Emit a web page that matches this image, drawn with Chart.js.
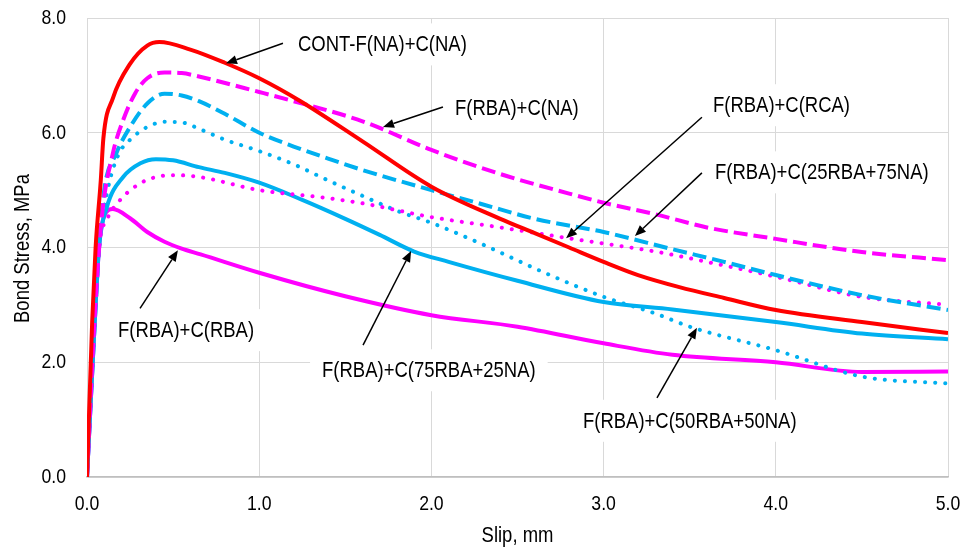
<!DOCTYPE html>
<html>
<head>
<meta charset="utf-8">
<script src="https://cdn.jsdelivr.net/npm/chart.js@4/dist/chart.umd.min.js"></script>
<style>
    html, body { margin: 0; padding: 0; background: #fff; }
    #wrap { width: 970px; height: 550px; }
</style>
</head>
<body>
<div id="wrap"><canvas id="bondChart" width="970" height="550"></canvas></div>
<script>
(function bondSlip () {
    'use strict';

    var FONT = "'Liberation Sans', Arial, sans-serif";
    var SQUASH = 0.84; // the original text is a narrow face

    // slip (mm) / bond stress (MPa)
    var contSlip = [0, 0.03, 0.05, 0.08, 0.095, 0.15, 0.25, 0.35, 0.42, 0.6, 0.8, 1.0, 1.24, 1.6, 2.0, 2.4, 2.6, 2.8, 3.0, 3.2, 3.44, 3.7, 4.0, 4.5, 5.0];
    var contStress = [0, 2.7, 4.0, 5.17, 5.9, 6.6, 7.2, 7.52, 7.58, 7.45, 7.22, 6.95, 6.55, 5.85, 5.06, 4.5, 4.25, 4.0, 3.75, 3.52, 3.31, 3.12, 2.91, 2.70, 2.51];

    var naSlip = [0, 0.045, 0.085, 0.15, 0.21, 0.28, 0.35, 0.45, 0.55, 0.65, 1.0, 1.2, 1.6, 2.0, 2.4, 2.8, 3.0, 3.3, 3.6, 4.0, 4.5, 5.0];
    var naStress = [0, 2.8, 4.5, 5.64, 6.22, 6.69, 6.95, 7.05, 7.04, 6.98, 6.71, 6.55, 6.2, 5.7, 5.28, 4.94, 4.78, 4.58, 4.35, 4.15, 3.92, 3.78];

    var mix25Slip = [0, 0.045, 0.07, 0.1, 0.17, 0.25, 0.35, 0.45, 0.55, 0.65, 0.8, 1.0, 1.2, 1.4, 1.6, 2.0, 2.3, 2.6, 3.0, 3.4, 3.7, 4.0, 4.5, 5.0];
    var mix25Stress = [0, 2.7, 4.0, 5.0, 5.64, 6.1, 6.51, 6.68, 6.65, 6.55, 6.33, 6.0, 5.76, 5.55, 5.35, 5.0, 4.75, 4.5, 4.27, 3.97, 3.75, 3.52, 3.17, 2.91];

    var rcaSlip = [0, 0.045, 0.07, 0.115, 0.19, 0.31, 0.42, 0.52, 0.65, 1.0, 1.4, 1.6, 2.0, 2.4, 2.8, 3.0, 3.3, 3.6, 4.0, 4.5, 5.0];
    var rcaStress = [0, 2.7, 4.0, 4.48, 4.82, 5.12, 5.24, 5.26, 5.23, 5.0, 4.86, 4.77, 4.53, 4.35, 4.16, 4.07, 3.93, 3.75, 3.49, 3.14, 3.0];

    var mix50Slip = [0, 0.045, 0.07, 0.12, 0.18, 0.27, 0.35, 0.45, 0.55, 0.65, 0.8, 1.0, 1.2, 1.4, 1.6, 1.8, 2.0, 2.3, 2.65, 3.0, 3.3, 3.5, 4.0, 4.5, 5.0];
    var mix50Stress = [0, 2.7, 4.0, 5.0, 5.6, 5.93, 6.1, 6.19, 6.18, 6.07, 5.88, 5.68, 5.45, 5.17, 4.9, 4.64, 4.43, 4.05, 3.57, 3.14, 2.85, 2.62, 2.21, 1.75, 1.63];

    var mix75Slip = [0, 0.045, 0.07, 0.115, 0.21, 0.31, 0.4, 0.5, 0.65, 0.8, 1.0, 1.25, 1.5, 1.7, 1.9, 2.1, 2.5, 3.0, 3.4, 4.0, 4.5, 5.0];
    var mix75Stress = [0, 2.7, 4.0, 4.7, 5.23, 5.47, 5.54, 5.52, 5.4, 5.3, 5.13, 4.83, 4.5, 4.22, 3.93, 3.75, 3.42, 3.05, 2.92, 2.70, 2.5, 2.40];

    var rbaSlip = [0, 0.045, 0.07, 0.1, 0.15, 0.25, 0.35, 0.45, 0.55, 0.66, 1.0, 1.5, 2.0, 2.5, 3.0, 3.4, 4.0, 4.5, 5.0];
    var rbaStress = [0, 2.7, 4.0, 4.55, 4.67, 4.51, 4.27, 4.1, 3.98, 3.88, 3.56, 3.15, 2.82, 2.62, 2.33, 2.13, 2.0, 1.83, 1.84];

    var xTicks = [0, 1, 2, 3, 4, 5];
    var yTicks = [0, 2, 4, 6, 8];
    var xTitle = 'Slip, mm';
    var yTitle = 'Bond Stress, MPa';

    // callouts: label, text anchor (slip, stress), arrow tail, arrow tip
    var callouts = [
        { text: 'CONT-F(NA)+C(NA)', at: [1.225, 7.54], from: [1.138, 7.56], to: [0.807, 7.21] },
        { text: 'F(RBA)+C(NA)', at: [2.137, 6.43], from: [2.067, 6.45], to: [1.719, 6.10] },
        { text: 'F(RBA)+C(RCA)', at: [3.635, 6.48], from: [3.571, 6.27], to: [2.782, 4.16] },
        { text: 'F(RBA)+C(25RBA+75NA)', at: [3.647, 5.31], from: [3.571, 5.30], to: [3.182, 4.20] },
        { text: 'F(RBA)+C(RBA)', at: [0.18, 2.56], from: [0.308, 2.94], to: [0.528, 3.95] },
        { text: 'F(RBA)+C(75RBA+25NA)', at: [1.365, 1.86], from: [1.603, 2.30], to: [1.882, 3.94] },
        { text: 'F(RBA)+C(50RBA+50NA)', at: [2.880, 0.98], from: [3.310, 1.38], to: [3.542, 2.60] }
    ];

    function toPoints (xs, ys) {
        return xs.map(function pair (x, i) {
            return { x: x, y: ys[i] };
        });
    }

    function series (label, xs, ys, colour, dash) {
        return {
            label: label,
            data: toPoints(xs, ys),
            borderColor: colour,
            backgroundColor: colour,
            borderWidth: 4,
            borderDash: dash,
            borderCapStyle: dash.length && dash[0] < 1 ? 'round' : 'butt',
            pointRadius: 0,
            fill: false,
            cubicInterpolationMode: 'monotone'
        };
    }

    function narrowText (c, text, x, y, align, angle) {
        c.save();
        c.translate(x, y);
        if (angle) {
            c.rotate(angle);
        }
        c.scale(SQUASH, 1);
        c.textAlign = align;
        c.fillText(text, 0, 0);
        c.restore();
    }

    var RED = '#FF0000';
    var MAGENTA = '#FF00FF';
    var CYAN = '#00B0F0';
    var DASH = [14, 6];
    var DOT = [0.1, 10];

    var calloutPlugin = {
        id: 'callouts',
        beforeDatasetsDraw: function drawBoxes (chart) {
            var c = chart.ctx;
            var xs = chart.scales.x;
            var ys = chart.scales.y;

            c.save();
            c.font = '22px ' + FONT;
            c.textBaseline = 'middle';
            callouts.forEach(function box (item) {
                var px = xs.getPixelForValue(item.at[0]);
                var py = ys.getPixelForValue(item.at[1]);
                var w = c.measureText(item.text).width * SQUASH;

                c.fillStyle = '#fff';
                c.fillRect(px - 12, py - 21, w + 24, 42);
                c.fillStyle = '#000';
                narrowText(c, item.text, px, py + 1, 'left');
            });
            c.restore();
        },
        afterDatasetsDraw: function drawArrows (chart) {
            var c = chart.ctx;
            var xs = chart.scales.x;
            var ys = chart.scales.y;

            c.save();
            c.strokeStyle = '#000';
            c.fillStyle = '#000';
            c.lineWidth = 1.5;
            callouts.forEach(function arrow (item) {
                var x0 = xs.getPixelForValue(item.from[0]);
                var y0 = ys.getPixelForValue(item.from[1]);
                var x1 = xs.getPixelForValue(item.to[0]);
                var y1 = ys.getPixelForValue(item.to[1]);
                var ang = Math.atan2(y1 - y0, x1 - x0);
                var len = 11;
                var half = 4.5;
                var bx = x1 - len * Math.cos(ang);
                var by = y1 - len * Math.sin(ang);

                c.beginPath();
                c.moveTo(x0, y0);
                c.lineTo(bx, by);
                c.stroke();
                c.beginPath();
                c.moveTo(x1, y1);
                c.lineTo(bx + half * Math.sin(ang), by - half * Math.cos(ang));
                c.lineTo(bx - half * Math.sin(ang), by + half * Math.cos(ang));
                c.closePath();
                c.fill();
            });
            c.restore();
        },
        afterDraw: function drawAxisText (chart) {
            var c = chart.ctx;
            var xs = chart.scales.x;
            var ys = chart.scales.y;
            var area = chart.chartArea;

            c.save();
            c.fillStyle = '#000';
            c.textBaseline = 'middle';
            c.font = '21px ' + FONT;
            xTicks.forEach(function xt (v) {
                narrowText(c, v.toFixed(1), xs.getPixelForValue(v), area.bottom + 27, 'center');
            });
            yTicks.forEach(function yt (v) {
                narrowText(c, v.toFixed(1), area.left - 21, ys.getPixelForValue(v), 'right');
            });
            c.font = '22px ' + FONT;
            narrowText(c, xTitle, (area.left + area.right) / 2, area.bottom + 59, 'center');
            narrowText(c, yTitle, 23, (area.top + area.bottom) / 2 + 1, 'center', -Math.PI / 2);
            c.restore();
        }
    };

    Chart.defaults.font.family = FONT;
    Chart.defaults.color = '#000';

    new Chart(document.getElementById('bondChart').getContext('2d'), {
        type: 'line',
        data: {
            datasets: [
                series('CONT-F(NA)+C(NA)', contSlip, contStress, RED, []),
                series('F(RBA)+C(NA)', naSlip, naStress, MAGENTA, DASH),
                series('F(RBA)+C(25RBA+75NA)', mix25Slip, mix25Stress, CYAN, DASH),
                series('F(RBA)+C(RCA)', rcaSlip, rcaStress, MAGENTA, DOT),
                series('F(RBA)+C(50RBA+50NA)', mix50Slip, mix50Stress, CYAN, DOT),
                series('F(RBA)+C(75RBA+25NA)', mix75Slip, mix75Stress, CYAN, []),
                series('F(RBA)+C(RBA)', rbaSlip, rbaStress, MAGENTA, [])
            ]
        },
        options: {
            responsive: false,
            animation: false,
            layout: { padding: { left: 0, right: 22, top: 18, bottom: 0 } },
            plugins: {
                legend: { display: false },
                tooltip: { enabled: false }
            },
            scales: {
                x: {
                    type: 'linear',
                    min: 0,
                    max: 5,
                    afterBuildTicks: function setTicks (scale) {
                        scale.ticks = xTicks.map(function t (v) { return { value: v }; });
                    },
                    afterFit: function fixHeight (scale) {
                        scale.height = 73;
                    },
                    ticks: { display: false },
                    grid: { color: '#d9d9d9', lineWidth: 1, drawTicks: false },
                    border: { color: '#bfbfbf', width: 1.5 }
                },
                y: {
                    type: 'linear',
                    min: 0,
                    max: 8,
                    afterBuildTicks: function setTicks (scale) {
                        scale.ticks = yTicks.map(function t (v) { return { value: v }; });
                    },
                    afterFit: function fixWidth (scale) {
                        scale.width = 87;
                    },
                    ticks: { display: false },
                    grid: { color: '#d9d9d9', lineWidth: 1, drawTicks: false },
                    border: { color: '#d9d9d9', width: 1 }
                }
            }
        },
        plugins: [calloutPlugin]
    });
}());
</script>
</body>
</html>
